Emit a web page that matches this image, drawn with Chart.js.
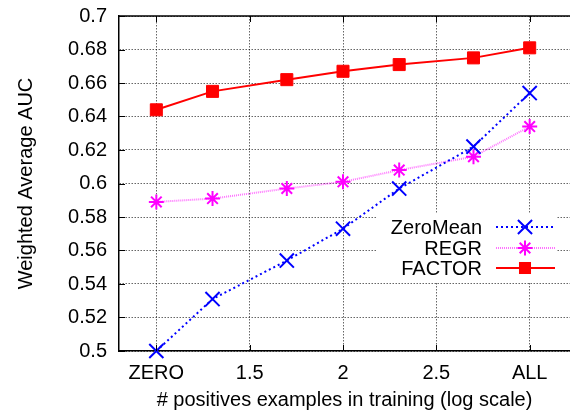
<!DOCTYPE html>
<html>
<head>
<meta charset="utf-8">
<script src="https://cdn.jsdelivr.net/npm/chart.js@4/dist/chart.umd.min.js"></script>
<style>
  html, body { margin: 0; padding: 0; background: #fff; }
  #wrap { width: 570px; height: 416px; position: relative; }
</style>
</head>
<body>
<div id="wrap"><canvas id="c" width="570" height="416"></canvas></div>
<script>
// ---- data ----
const xValues = [1, 1.301, 1.699, 2, 2.301, 2.699, 3];   // log10(# positives)
const zeroMean = [0.500, 0.531, 0.554, 0.573, 0.597, 0.622, 0.654];
const regr     = [0.589, 0.591, 0.597, 0.601, 0.608, 0.616, 0.634];
const factor   = [0.644, 0.655, 0.662, 0.667, 0.671, 0.675, 0.681];
const xTickValues = [1, 1.5, 2, 2.5, 3];
const xTickLabels = ['ZERO', '1.5', '2', '2.5', 'ALL'];
const seriesNames = ['ZeroMean', 'REGR', 'FACTOR'];

const FONT = "'Liberation Sans', Arial, Helvetica, sans-serif";
const pts = (arr) => xValues.map((x, i) => ({ x: x, y: arr[i] }));

const styles = [
  { color: '#0000ff', line: '#0000ff', dash: [2, 3], width: 2, point: 'crossRot', radius: 10, pbw: 2 },
  { color: '#ff00ff', line: 'rgba(255,0,255,0.55)', dash: [1, 1], width: 2, point: 'star', radius: 7.5, pbw: 2 },
  { color: '#ff0000', line: '#ff0000', dash: [], width: 2, point: 'rect', radius: 8.5, pbw: 1 }
];
const seriesData = [zeroMean, regr, factor];

function drawMarker(ctx, st, x, y) {
  ctx.save();
  ctx.setLineDash([]);
  ctx.strokeStyle = st.color;
  ctx.fillStyle = st.color;
  ctx.lineWidth = st.pbw;
  const r = st.radius;
  ctx.beginPath();
  if (st.point === 'crossRot') {
    const o = Math.SQRT1_2 * r;
    ctx.moveTo(x - o, y - o); ctx.lineTo(x + o, y + o);
    ctx.moveTo(x - o, y + o); ctx.lineTo(x + o, y - o);
    ctx.stroke();
  } else if (st.point === 'star') {
    const o = Math.SQRT1_2 * r;
    ctx.moveTo(x - r, y); ctx.lineTo(x + r, y);
    ctx.moveTo(x, y - r); ctx.lineTo(x, y + r);
    ctx.moveTo(x - o, y - o); ctx.lineTo(x + o, y + o);
    ctx.moveTo(x - o, y + o); ctx.lineTo(x + o, y - o);
    ctx.stroke();
  } else {
    const s = Math.SQRT1_2 * r;
    ctx.fillRect(x - s, y - s, 2 * s, 2 * s);
  }
  ctx.restore();
}

const framePlugin = {
  id: 'frame',
  afterDatasetsDraw(chart) {
    const ctx = chart.ctx;
    const a = chart.chartArea;
    const xs = chart.scales.x, ys = chart.scales.y;
    ctx.save();
    // top border
    ctx.strokeStyle = '#000';
    ctx.lineWidth = 1.5;
    ctx.beginPath();
    ctx.moveTo(a.left, a.top); ctx.lineTo(a.right, a.top);
    ctx.stroke();
    // inward tick marks
    ctx.lineWidth = 1;
    ctx.beginPath();
    xTickValues.forEach(v => {
      const px = Math.round(xs.getPixelForValue(v)) + 0.5;
      ctx.moveTo(px, a.bottom); ctx.lineTo(px, a.bottom - 6);
      ctx.moveTo(px, a.top); ctx.lineTo(px, a.top + 6);
    });
    for (let i = 0; i <= 10; i++) {
      const py = Math.round(ys.getPixelForValue(0.5 + i * 0.02)) + 0.5;
      ctx.moveTo(a.left, py); ctx.lineTo(a.left + 6, py);
    }
    ctx.stroke();

    // key box (white background)
    const bx = 377, by = 214, bw = 180, bh = 68;
    ctx.fillStyle = '#fff';
    ctx.fillRect(bx, by, bw, bh);
    ctx.font = '20px ' + FONT;
    ctx.textAlign = 'right';
    ctx.textBaseline = 'middle';
    const rows = [227, 248, 268];
    seriesNames.forEach((name, i) => {
      const st = styles[i];
      const y = rows[i];
      ctx.fillStyle = '#000';
      ctx.fillText(name, 482, y + 1);
      ctx.strokeStyle = st.line;
      ctx.lineWidth = st.width;
      ctx.setLineDash(st.dash);
      ctx.beginPath();
      ctx.moveTo(496, y); ctx.lineTo(555, y);
      ctx.stroke();
      ctx.setLineDash([]);
      drawMarker(ctx, st, 525, y);
    });
    ctx.restore();
  }
};

const datasets = seriesNames.map((name, i) => {
  const st = styles[i];
  return {
    label: name,
    data: pts(seriesData[i]),
    borderColor: st.line,
    backgroundColor: st.color,
    borderWidth: st.width,
    borderDash: st.dash,
    pointStyle: st.point,
    pointRadius: st.radius,
    pointHoverRadius: st.radius,
    pointBorderColor: st.color,
    pointBackgroundColor: st.color,
    pointBorderWidth: st.pbw,
    tension: 0,
    showLine: true,
    clip: false
  };
});

new Chart(document.getElementById('c'), {
  type: 'line',
  data: { datasets: datasets },
  plugins: [framePlugin],
  options: {
    responsive: false,
    animation: false,
    devicePixelRatio: 1,
    layout: { autoPadding: false, padding: { top: 16, left: 0, right: 0, bottom: 0 } },
    plugins: { legend: { display: false }, tooltip: { enabled: false } },
    scales: {
      x: {
        type: 'linear',
        min: 0.8,
        max: 3.216,
        afterBuildTicks(scale) { scale.ticks = xTickValues.map(v => ({ value: v })); },
        afterFit(scale) { scale.height = 65; scale.paddingLeft = 0; scale.paddingRight = 0; },
        ticks: {
          color: '#000',
          font: { family: FONT, size: 20 },
          padding: 10,
          maxRotation: 0,
          autoSkip: false,
          callback(value) {
            const idx = xTickValues.indexOf(value);
            return idx >= 0 ? xTickLabels[idx] : '';
          }
        },
        grid: {
          color: 'rgba(0,0,0,0.6)',
          lineWidth: 1,
          drawTicks: false
        },
        border: { display: true, color: '#000', width: 1.5, dash: [1.5, 1.5] },
        title: {
          display: true,
          text: '# positives examples in training (log scale)',
          color: '#000',
          font: { family: FONT, size: 20 },
          padding: { top: 0, bottom: 4 }
        }
      },
      y: {
        type: 'linear',
        min: 0.5,
        max: 0.7,
        afterFit(scale) { scale.width = 119; scale.paddingTop = 0; scale.paddingBottom = 0; },
        ticks: {
          stepSize: 0.02,
          color: '#000',
          font: { family: FONT, size: 20 },
          padding: 12,
          callback(value) { return String(Number(value.toFixed(2))); }
        },
        grid: {
          color: 'rgba(0,0,0,0.6)',
          lineWidth: 1,
          drawTicks: false
        },
        border: { display: true, color: '#000', width: 1.5, dash: [1.5, 1.5] },
        title: {
          display: true,
          text: 'Weighted Average AUC',
          color: '#000',
          font: { family: FONT, size: 20 },
          padding: { top: 14, bottom: 0 }
        }
      }
    }
  }
});
</script>
</body>
</html>
